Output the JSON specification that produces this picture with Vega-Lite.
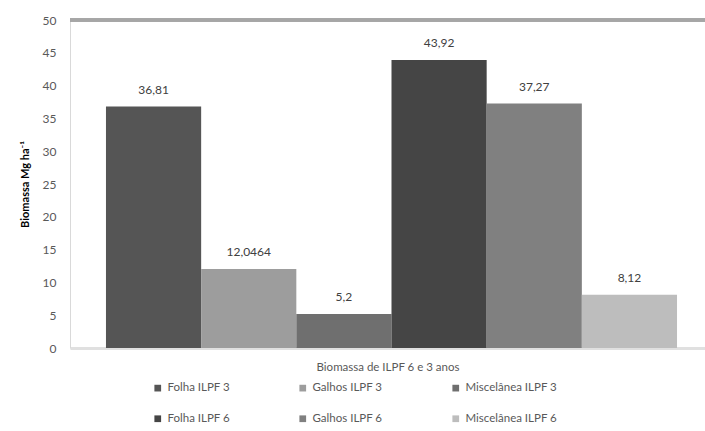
{
  "$schema": "https://vega.github.io/schema/vega-lite/v6.json",
  "width": 635,
  "height": 328,
  "autosize": {"type": "none"},
  "padding": {"left": 70, "top": 20, "right": 0, "bottom": 83},
  "background": "white",
  "config": {
    "font": "Lato",
    "view": {"stroke": null}
  },
  "data": {
    "values": [
      {"serie": "Folha ILPF 3", "valor": 36.81, "rotulo": "36,81"},
      {"serie": "Galhos ILPF 3", "valor": 12.0464, "rotulo": "12,0464"},
      {"serie": "Miscelânea ILPF 3", "valor": 5.2, "rotulo": "5,2"},
      {"serie": "Folha ILPF 6", "valor": 43.92, "rotulo": "43,92"},
      {"serie": "Galhos ILPF 6", "valor": 37.27, "rotulo": "37,27"},
      {"serie": "Miscelânea ILPF 6", "valor": 8.12, "rotulo": "8,12"}
    ]
  },
  "encoding": {
    "x": {
      "field": "serie",
      "type": "nominal",
      "sort": ["Folha ILPF 3", "Galhos ILPF 3", "Miscelânea ILPF 3", "Folha ILPF 6", "Galhos ILPF 6", "Miscelânea ILPF 6"],
      "scale": {"paddingInner": 0, "paddingOuter": 0.336, "align": 0.5625},
      "axis": {
        "title": "Biomassa de ILPF 6 e 3 anos",
        "titleFont": "Lato",
        "titleFontSize": 11.5,
        "titleFontWeight": "normal",
        "titleColor": "#595959",
        "titlePadding": 13,
        "labels": false,
        "ticks": false,
        "domainColor": "#e0e0e0",
        "domainWidth": 3
      }
    },
    "y": {
      "field": "valor",
      "type": "quantitative",
      "scale": {"domain": [0, 50]},
      "axis": {
        "title": "Biomassa Mg ha⁻¹",
        "titleFont": "Lato",
        "titleFontSize": 11,
        "titleFontWeight": "bold",
        "titleColor": "#000000",
        "titlePadding": 12,
        "values": [0, 5, 10, 15, 20, 25, 30, 35, 40, 45, 50],
        "grid": false,
        "ticks": false,
        "labelFont": "Lato",
        "labelFontSize": 12,
        "labelColor": "#595959",
        "labelPadding": 14,
        "domainColor": "#d9d9d9",
        "domainWidth": 1
      }
    }
  },
  "layer": [
    {
      "mark": {"type": "bar"},
      "encoding": {
        "color": {
          "field": "serie",
          "type": "nominal",
          "sort": ["Folha ILPF 3", "Galhos ILPF 3", "Miscelânea ILPF 3", "Folha ILPF 6", "Galhos ILPF 6", "Miscelânea ILPF 6"],
          "scale": {
            "domain": ["Folha ILPF 3", "Galhos ILPF 3", "Miscelânea ILPF 3", "Folha ILPF 6", "Galhos ILPF 6", "Miscelânea ILPF 6"],
            "range": ["#555555", "#9d9d9d", "#6f6f6f", "#454545", "#808080", "#bdbdbd"]
          },
          "legend": {
            "title": null,
            "orient": "none",
            "legendX": 82,
            "legendY": 362,
            "direction": "horizontal",
            "columns": 3,
            "columnPadding": 67,
            "rowPadding": 18,
            "padding": 0,
            "symbolType": "square",
            "symbolSize": 45,
            "symbolStrokeWidth": 0,
            "labelFont": "Lato",
            "labelFontSize": 11.5,
            "labelColor": "#595959",
            "labelOffset": 4,
            "labelLimit": 200
          }
        }
      }
    },
    {
      "mark": {"type": "text", "baseline": "middle", "dy": -17, "fontSize": 12, "color": "#404040", "font": "Lato"},
      "encoding": {
        "text": {"field": "rotulo", "type": "nominal"}
      }
    },
    {
      "mark": {"type": "rule", "color": "#a6a6a6", "strokeWidth": 3},
      "encoding": {
        "x": {"value": 0},
        "x2": {"value": 635},
        "y": {"datum": 50}
      }
    }
  ]
}
